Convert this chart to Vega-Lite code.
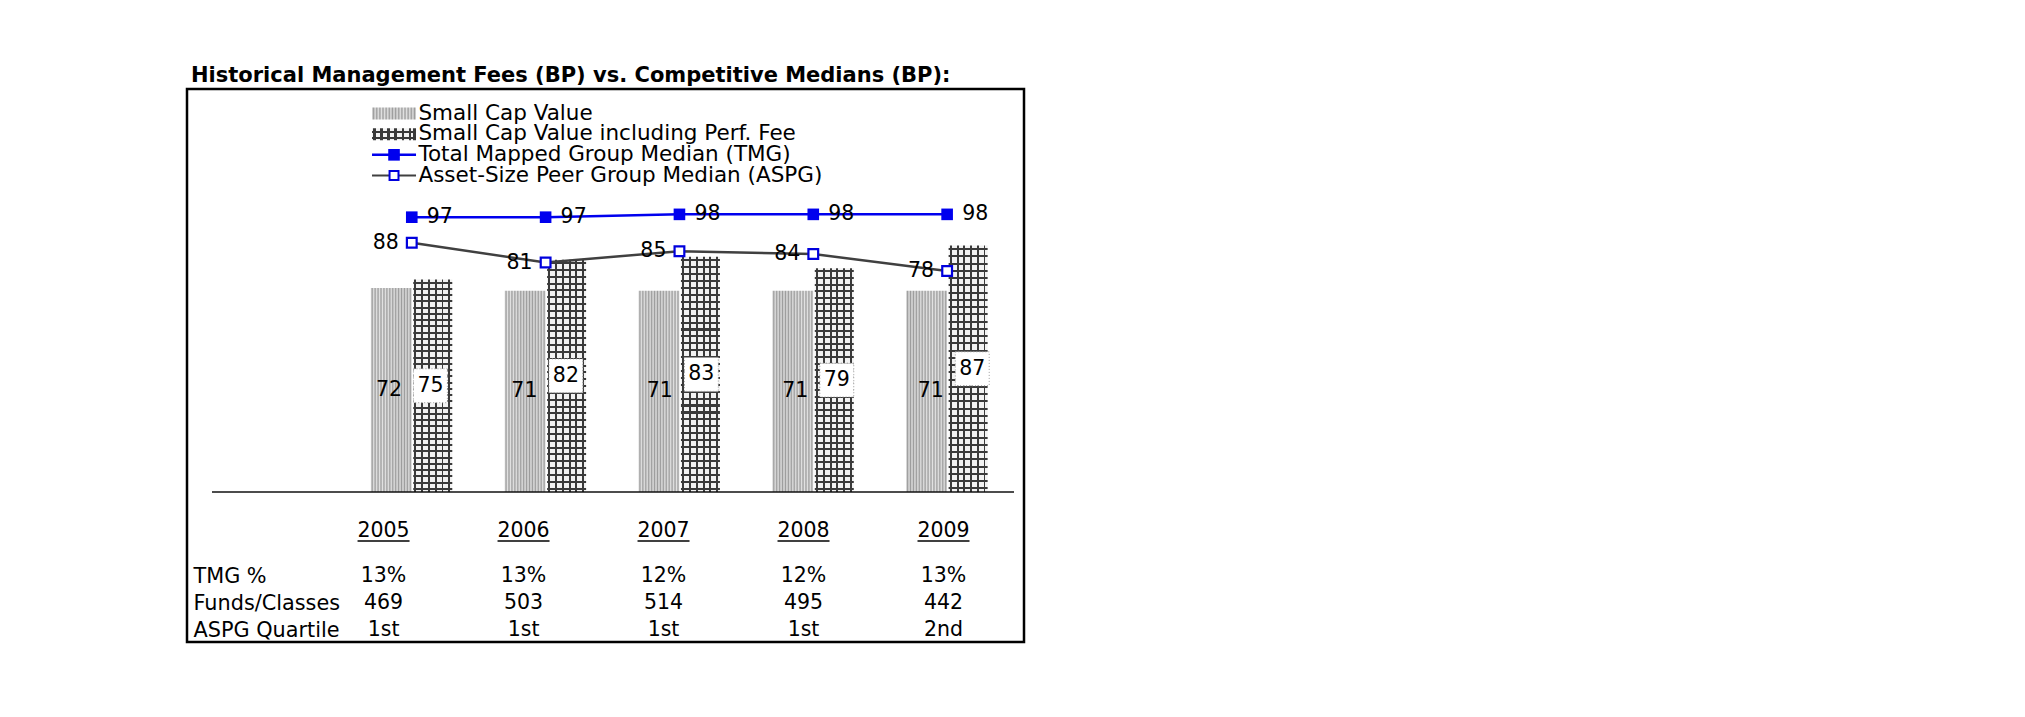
{
  "$schema": "https://vega.github.io/schema/vega-lite/v6.json",
  "width": 837,
  "height": 553,
  "autosize": {"type": "none"},
  "padding": {"left": 187, "top": 89, "right": 1001, "bottom": 75},
  "background": "white",
  "title": {"text": "Historical Management Fees (BP) vs. Competitive Medians (BP):", "anchor": "start", "frame": "group", "dx": 4, "offset": 3, "fontSize": 21, "fontWeight": "bold", "font": "DejaVu Sans", "color": "black"},
  "datasets": {
    "main": [
      {"year": 2005, "scv": 72, "perf": 75, "tmg": 97, "aspg": 88},
      {"year": 2006, "scv": 71, "perf": 82, "tmg": 97, "aspg": 81},
      {"year": 2007, "scv": 71, "perf": 83, "tmg": 98, "aspg": 85},
      {"year": 2008, "scv": 71, "perf": 79, "tmg": 98, "aspg": 84},
      {"year": 2009, "scv": 71, "perf": 87, "tmg": 98, "aspg": 78}
    ],
    "table": [
      {"year": 2005, "row": "TMG %", "val": "13%"},
      {"year": 2006, "row": "TMG %", "val": "13%"},
      {"year": 2007, "row": "TMG %", "val": "12%"},
      {"year": 2008, "row": "TMG %", "val": "12%"},
      {"year": 2009, "row": "TMG %", "val": "13%"},
      {"year": 2005, "row": "Funds/Classes", "val": "469"},
      {"year": 2006, "row": "Funds/Classes", "val": "503"},
      {"year": 2007, "row": "Funds/Classes", "val": "514"},
      {"year": 2008, "row": "Funds/Classes", "val": "495"},
      {"year": 2009, "row": "Funds/Classes", "val": "442"},
      {"year": 2005, "row": "ASPG Quartile", "val": "1st"},
      {"year": 2006, "row": "ASPG Quartile", "val": "1st"},
      {"year": 2007, "row": "ASPG Quartile", "val": "1st"},
      {"year": 2008, "row": "ASPG Quartile", "val": "1st"},
      {"year": 2009, "row": "ASPG Quartile", "val": "2nd"}
    ],
    "legend": [
      {"entry": "Small Cap Value"},
      {"entry": "Small Cap Value including Perf. Fee"},
      {"entry": "Total Mapped Group Median (TMG)"},
      {"entry": "Asset-Size Peer Group Median (ASPG)"}
    ]
  },
  "resolve": {"scale": {"x": "independent", "y": "independent"}},
  "layer": [
    {
      "data": {"name": "main"},
      "layer": [
        {
          "mark": {"type": "bar", "orient": "vertical", "width": 41, "xOffset": -20.5,
            "fill": {"gradient": "linear", "x1": 0, "y1": 0, "x2": 1, "y2": 0, "stops": [{"offset":0,"color":"#e2e2e2"},{"offset":0.0357,"color":"#9c9c9c"},{"offset":0.0714,"color":"#e2e2e2"},{"offset":0.1071,"color":"#9c9c9c"},{"offset":0.1429,"color":"#e2e2e2"},{"offset":0.1786,"color":"#9c9c9c"},{"offset":0.2143,"color":"#e2e2e2"},{"offset":0.25,"color":"#9c9c9c"},{"offset":0.2857,"color":"#e2e2e2"},{"offset":0.3214,"color":"#9c9c9c"},{"offset":0.3571,"color":"#e2e2e2"},{"offset":0.3929,"color":"#9c9c9c"},{"offset":0.4286,"color":"#e2e2e2"},{"offset":0.4643,"color":"#9c9c9c"},{"offset":0.5,"color":"#e2e2e2"},{"offset":0.5357,"color":"#9c9c9c"},{"offset":0.5714,"color":"#e2e2e2"},{"offset":0.6071,"color":"#9c9c9c"},{"offset":0.6429,"color":"#e2e2e2"},{"offset":0.6786,"color":"#9c9c9c"},{"offset":0.7143,"color":"#e2e2e2"},{"offset":0.75,"color":"#9c9c9c"},{"offset":0.7857,"color":"#e2e2e2"},{"offset":0.8214,"color":"#9c9c9c"},{"offset":0.8571,"color":"#e2e2e2"},{"offset":0.8929,"color":"#9c9c9c"},{"offset":0.9286,"color":"#e2e2e2"},{"offset":0.9643,"color":"#9c9c9c"},{"offset":1,"color":"#e2e2e2"}]}},
          "encoding": {
            "x": {"field": "year", "type": "quantitative", "scale": {"domain": [2003.358, 2009.537], "nice": false, "zero": false}, "axis": null},
            "y": {"field": "scv", "type": "quantitative", "scale": {"domain": [-52.95, 142.25], "nice": false, "zero": false}, "axis": null}
          }
        },
        {
          "mark": {"type": "bar", "orient": "vertical", "width": 39, "xOffset": 21,
            "fill": {"gradient": "linear", "x1": 0, "y1": 0, "x2": 1, "y2": 0, "stops": [{"offset":0,"color":"#f2f2f2"},{"offset":0.03,"color":"#f2f2f2"},{"offset":0.03,"color":"#3a3a3a"},{"offset":0.08,"color":"#3a3a3a"},{"offset":0.08,"color":"#f2f2f2"},{"offset":0.21,"color":"#f2f2f2"},{"offset":0.21,"color":"#3a3a3a"},{"offset":0.26,"color":"#3a3a3a"},{"offset":0.26,"color":"#f2f2f2"},{"offset":0.38,"color":"#f2f2f2"},{"offset":0.38,"color":"#3a3a3a"},{"offset":0.43,"color":"#3a3a3a"},{"offset":0.43,"color":"#f2f2f2"},{"offset":0.555,"color":"#f2f2f2"},{"offset":0.555,"color":"#3a3a3a"},{"offset":0.605,"color":"#3a3a3a"},{"offset":0.605,"color":"#f2f2f2"},{"offset":0.725,"color":"#f2f2f2"},{"offset":0.725,"color":"#3a3a3a"},{"offset":0.775,"color":"#3a3a3a"},{"offset":0.775,"color":"#f2f2f2"},{"offset":0.895,"color":"#f2f2f2"},{"offset":0.895,"color":"#3a3a3a"},{"offset":0.945,"color":"#3a3a3a"},{"offset":0.945,"color":"#f2f2f2"},{"offset":1,"color":"#f2f2f2"}]}},
          "encoding": {
            "x": {"field": "year", "type": "quantitative", "scale": {"domain": [2003.358, 2009.537], "nice": false, "zero": false}, "axis": null},
            "y": {"field": "perf", "type": "quantitative", "scale": {"domain": [-52.95, 142.25], "nice": false, "zero": false}, "axis": null}
          }
        },
        {
          "mark": {"type": "bar", "orient": "vertical", "width": 39, "xOffset": 21,
            "fill": {"gradient": "linear", "x1": 0, "y1": 0, "x2": 0, "y2": 1, "stops": [
              {"offset":0,"color":"rgba(58,58,58,0)"},
              {"offset":0.0103,"color":"rgba(58,58,58,0)"},{"offset":0.0103,"color":"#3a3a3a"},{"offset":0.0191,"color":"#3a3a3a"},{"offset":0.0191,"color":"rgba(58,58,58,0)"},
              {"offset":0.0397,"color":"rgba(58,58,58,0)"},{"offset":0.0397,"color":"#3a3a3a"},{"offset":0.0485,"color":"#3a3a3a"},{"offset":0.0485,"color":"rgba(58,58,58,0)"},
              {"offset":0.0691,"color":"rgba(58,58,58,0)"},{"offset":0.0691,"color":"#3a3a3a"},{"offset":0.0779,"color":"#3a3a3a"},{"offset":0.0779,"color":"rgba(58,58,58,0)"},
              {"offset":0.0985,"color":"rgba(58,58,58,0)"},{"offset":0.0985,"color":"#3a3a3a"},{"offset":0.1073,"color":"#3a3a3a"},{"offset":0.1073,"color":"rgba(58,58,58,0)"},
              {"offset":0.1279,"color":"rgba(58,58,58,0)"},{"offset":0.1279,"color":"#3a3a3a"},{"offset":0.1367,"color":"#3a3a3a"},{"offset":0.1367,"color":"rgba(58,58,58,0)"},
              {"offset":0.1574,"color":"rgba(58,58,58,0)"},{"offset":0.1574,"color":"#3a3a3a"},{"offset":0.1662,"color":"#3a3a3a"},{"offset":0.1662,"color":"rgba(58,58,58,0)"},
              {"offset":0.1868,"color":"rgba(58,58,58,0)"},{"offset":0.1868,"color":"#3a3a3a"},{"offset":0.1956,"color":"#3a3a3a"},{"offset":0.1956,"color":"rgba(58,58,58,0)"},
              {"offset":0.2162,"color":"rgba(58,58,58,0)"},{"offset":0.2162,"color":"#3a3a3a"},{"offset":0.2250,"color":"#3a3a3a"},{"offset":0.2250,"color":"rgba(58,58,58,0)"},
              {"offset":0.2456,"color":"rgba(58,58,58,0)"},{"offset":0.2456,"color":"#3a3a3a"},{"offset":0.2544,"color":"#3a3a3a"},{"offset":0.2544,"color":"rgba(58,58,58,0)"},
              {"offset":0.2750,"color":"rgba(58,58,58,0)"},{"offset":0.2750,"color":"#3a3a3a"},{"offset":0.2838,"color":"#3a3a3a"},{"offset":0.2838,"color":"rgba(58,58,58,0)"},
              {"offset":0.3044,"color":"rgba(58,58,58,0)"},{"offset":0.3044,"color":"#3a3a3a"},{"offset":0.3132,"color":"#3a3a3a"},{"offset":0.3132,"color":"rgba(58,58,58,0)"},
              {"offset":0.3338,"color":"rgba(58,58,58,0)"},{"offset":0.3338,"color":"#3a3a3a"},{"offset":0.3426,"color":"#3a3a3a"},{"offset":0.3426,"color":"rgba(58,58,58,0)"},
              {"offset":0.3632,"color":"rgba(58,58,58,0)"},{"offset":0.3632,"color":"#3a3a3a"},{"offset":0.3720,"color":"#3a3a3a"},{"offset":0.3720,"color":"rgba(58,58,58,0)"},
              {"offset":0.3926,"color":"rgba(58,58,58,0)"},{"offset":0.3926,"color":"#3a3a3a"},{"offset":0.4014,"color":"#3a3a3a"},{"offset":0.4014,"color":"rgba(58,58,58,0)"},
              {"offset":0.4221,"color":"rgba(58,58,58,0)"},{"offset":0.4221,"color":"#3a3a3a"},{"offset":0.4309,"color":"#3a3a3a"},{"offset":0.4309,"color":"rgba(58,58,58,0)"},
              {"offset":0.4515,"color":"rgba(58,58,58,0)"},{"offset":0.4515,"color":"#3a3a3a"},{"offset":0.4603,"color":"#3a3a3a"},{"offset":0.4603,"color":"rgba(58,58,58,0)"},
              {"offset":0.4809,"color":"rgba(58,58,58,0)"},{"offset":0.4809,"color":"#3a3a3a"},{"offset":0.4897,"color":"#3a3a3a"},{"offset":0.4897,"color":"rgba(58,58,58,0)"},
              {"offset":0.5103,"color":"rgba(58,58,58,0)"},{"offset":0.5103,"color":"#3a3a3a"},{"offset":0.5191,"color":"#3a3a3a"},{"offset":0.5191,"color":"rgba(58,58,58,0)"},
              {"offset":0.5397,"color":"rgba(58,58,58,0)"},{"offset":0.5397,"color":"#3a3a3a"},{"offset":0.5485,"color":"#3a3a3a"},{"offset":0.5485,"color":"rgba(58,58,58,0)"},
              {"offset":0.5691,"color":"rgba(58,58,58,0)"},{"offset":0.5691,"color":"#3a3a3a"},{"offset":0.5779,"color":"#3a3a3a"},{"offset":0.5779,"color":"rgba(58,58,58,0)"},
              {"offset":0.5985,"color":"rgba(58,58,58,0)"},{"offset":0.5985,"color":"#3a3a3a"},{"offset":0.6073,"color":"#3a3a3a"},{"offset":0.6073,"color":"rgba(58,58,58,0)"},
              {"offset":0.6279,"color":"rgba(58,58,58,0)"},{"offset":0.6279,"color":"#3a3a3a"},{"offset":0.6367,"color":"#3a3a3a"},{"offset":0.6367,"color":"rgba(58,58,58,0)"},
              {"offset":0.6574,"color":"rgba(58,58,58,0)"},{"offset":0.6574,"color":"#3a3a3a"},{"offset":0.6662,"color":"#3a3a3a"},{"offset":0.6662,"color":"rgba(58,58,58,0)"},
              {"offset":0.6868,"color":"rgba(58,58,58,0)"},{"offset":0.6868,"color":"#3a3a3a"},{"offset":0.6956,"color":"#3a3a3a"},{"offset":0.6956,"color":"rgba(58,58,58,0)"},
              {"offset":0.7162,"color":"rgba(58,58,58,0)"},{"offset":0.7162,"color":"#3a3a3a"},{"offset":0.7250,"color":"#3a3a3a"},{"offset":0.7250,"color":"rgba(58,58,58,0)"},
              {"offset":0.7456,"color":"rgba(58,58,58,0)"},{"offset":0.7456,"color":"#3a3a3a"},{"offset":0.7544,"color":"#3a3a3a"},{"offset":0.7544,"color":"rgba(58,58,58,0)"},
              {"offset":0.7750,"color":"rgba(58,58,58,0)"},{"offset":0.7750,"color":"#3a3a3a"},{"offset":0.7838,"color":"#3a3a3a"},{"offset":0.7838,"color":"rgba(58,58,58,0)"},
              {"offset":0.8044,"color":"rgba(58,58,58,0)"},{"offset":0.8044,"color":"#3a3a3a"},{"offset":0.8132,"color":"#3a3a3a"},{"offset":0.8132,"color":"rgba(58,58,58,0)"},
              {"offset":0.8338,"color":"rgba(58,58,58,0)"},{"offset":0.8338,"color":"#3a3a3a"},{"offset":0.8426,"color":"#3a3a3a"},{"offset":0.8426,"color":"rgba(58,58,58,0)"},
              {"offset":0.8632,"color":"rgba(58,58,58,0)"},{"offset":0.8632,"color":"#3a3a3a"},{"offset":0.8720,"color":"#3a3a3a"},{"offset":0.8720,"color":"rgba(58,58,58,0)"},
              {"offset":0.8926,"color":"rgba(58,58,58,0)"},{"offset":0.8926,"color":"#3a3a3a"},{"offset":0.9014,"color":"#3a3a3a"},{"offset":0.9014,"color":"rgba(58,58,58,0)"},
              {"offset":0.9221,"color":"rgba(58,58,58,0)"},{"offset":0.9221,"color":"#3a3a3a"},{"offset":0.9309,"color":"#3a3a3a"},{"offset":0.9309,"color":"rgba(58,58,58,0)"},
              {"offset":0.9515,"color":"rgba(58,58,58,0)"},{"offset":0.9515,"color":"#3a3a3a"},{"offset":0.9603,"color":"#3a3a3a"},{"offset":0.9603,"color":"rgba(58,58,58,0)"},
              {"offset":0.9809,"color":"rgba(58,58,58,0)"},{"offset":0.9809,"color":"#3a3a3a"},{"offset":0.9897,"color":"#3a3a3a"},{"offset":0.9897,"color":"rgba(58,58,58,0)"},
              {"offset":1,"color":"rgba(58,58,58,0)"}
            ]}},
          "encoding": {
            "x": {"field": "year", "type": "quantitative", "scale": {"domain": [2003.358, 2009.537], "nice": false, "zero": false}, "axis": null},
            "y": {"field": "perf", "type": "quantitative", "scale": {"domain": [-52.95, 142.25], "nice": false, "zero": false}, "axis": null}
          }
        },
        {
          "data": {"values": [{"baseline": 0}]},
          "mark": {"type": "rule", "stroke": "#111111", "strokeWidth": 1.5, "xOffset": 20, "x2Offset": -5},
          "encoding": {
            "x": {"datum": 2003.358, "type": "quantitative", "scale": {"domain": [2003.358, 2009.537], "nice": false, "zero": false}, "axis": null},
            "x2": {"datum": 2009.537},
            "y": {"field": "baseline", "type": "quantitative", "scale": {"domain": [-52.95, 142.25], "nice": false, "zero": false}, "axis": null}
          }
        },
        {
          "mark": {"type": "line", "stroke": "#404040", "strokeWidth": 2.5},
          "encoding": {
            "x": {"field": "year", "type": "quantitative", "axis": null},
            "y": {"field": "aspg", "type": "quantitative", "axis": null}
          }
        },
        {
          "mark": {"type": "line", "stroke": "#0000ee", "strokeWidth": 2.5},
          "encoding": {
            "x": {"field": "year", "type": "quantitative", "axis": null},
            "y": {"field": "tmg", "type": "quantitative", "axis": null}
          }
        },
        {
          "mark": {"type": "point", "shape": "square", "size": 95, "filled": true, "fill": "white", "stroke": "#0000dd", "strokeWidth": 2.2, "opacity": 1},
          "encoding": {
            "x": {"field": "year", "type": "quantitative", "axis": null},
            "y": {"field": "aspg", "type": "quantitative", "axis": null}
          }
        },
        {
          "mark": {"type": "point", "shape": "square", "size": 135, "filled": true, "fill": "#0000ee", "stroke": "#0000ee", "strokeWidth": 0, "opacity": 1},
          "encoding": {
            "x": {"field": "year", "type": "quantitative", "axis": null},
            "y": {"field": "tmg", "type": "quantitative", "axis": null}
          }
        },
        {
          "mark": {"type": "text", "align": "left", "baseline": "middle", "dx": 15, "fontSize": 20.5, "font": "DejaVu Sans", "color": "black"},
          "encoding": {
            "x": {"field": "year", "type": "quantitative", "axis": null},
            "y": {"field": "tmg", "type": "quantitative", "axis": null},
            "text": {"field": "tmg", "type": "quantitative"}
          }
        },
        {
          "mark": {"type": "text", "align": "right", "baseline": "middle", "dx": -13, "fontSize": 20.5, "font": "DejaVu Sans", "color": "black"},
          "encoding": {
            "x": {"field": "year", "type": "quantitative", "axis": null},
            "y": {"field": "aspg", "type": "quantitative", "axis": null},
            "text": {"field": "aspg", "type": "quantitative"}
          }
        }
      ]
    },
    {
      "data": {"name": "main"},
      "layer": [
        {
          "mark": {"type": "text", "align": "center", "baseline": "middle", "xOffset": -20.5, "fontSize": 20.5, "font": "DejaVu Sans", "color": "black"},
          "encoding": {
            "x": {"field": "year", "type": "quantitative", "scale": {"domain": [2003.358, 2009.537], "nice": false, "zero": false}, "axis": null},
            "y": {"field": "scv", "type": "quantitative", "scale": {"domain": [-105.9, 284.5], "nice": false, "zero": false}, "axis": null},
            "text": {"field": "scv", "type": "quantitative"}
          }
        },
        {
          "mark": {"type": "point", "shape": "square", "size": 1150, "filled": true, "fill": "white", "stroke": "#9a9a9a", "strokeWidth": 1, "strokeDash": [1, 2], "opacity": 1, "xOffset": 21},
          "encoding": {
            "x": {"field": "year", "type": "quantitative", "axis": null},
            "y": {"field": "perf", "type": "quantitative", "axis": null}
          }
        },
        {
          "mark": {"type": "text", "align": "center", "baseline": "middle", "xOffset": 21, "fontSize": 20.5, "font": "DejaVu Sans", "color": "black"},
          "encoding": {
            "x": {"field": "year", "type": "quantitative", "axis": null},
            "y": {"field": "perf", "type": "quantitative", "axis": null},
            "text": {"field": "perf", "type": "quantitative"}
          }
        }
      ]
    },
    {
      "layer": [
        {
          "data": {"values": [{"entry": "Small Cap Value"}]},
          "mark": {"type": "rect", "width": 44, "height": 12, "xOffset": -15.4,
            "fill": {"gradient": "linear", "x1": 0, "y1": 0, "x2": 1, "y2": 0, "stops": [{"offset":0,"color":"#e2e2e2"},{"offset":0.0357,"color":"#9c9c9c"},{"offset":0.0714,"color":"#e2e2e2"},{"offset":0.1071,"color":"#9c9c9c"},{"offset":0.1429,"color":"#e2e2e2"},{"offset":0.1786,"color":"#9c9c9c"},{"offset":0.2143,"color":"#e2e2e2"},{"offset":0.25,"color":"#9c9c9c"},{"offset":0.2857,"color":"#e2e2e2"},{"offset":0.3214,"color":"#9c9c9c"},{"offset":0.3571,"color":"#e2e2e2"},{"offset":0.3929,"color":"#9c9c9c"},{"offset":0.4286,"color":"#e2e2e2"},{"offset":0.4643,"color":"#9c9c9c"},{"offset":0.5,"color":"#e2e2e2"},{"offset":0.5357,"color":"#9c9c9c"},{"offset":0.5714,"color":"#e2e2e2"},{"offset":0.6071,"color":"#9c9c9c"},{"offset":0.6429,"color":"#e2e2e2"},{"offset":0.6786,"color":"#9c9c9c"},{"offset":0.7143,"color":"#e2e2e2"},{"offset":0.75,"color":"#9c9c9c"},{"offset":0.7857,"color":"#e2e2e2"},{"offset":0.8214,"color":"#9c9c9c"},{"offset":0.8571,"color":"#e2e2e2"},{"offset":0.8929,"color":"#9c9c9c"},{"offset":0.9286,"color":"#e2e2e2"},{"offset":0.9643,"color":"#9c9c9c"},{"offset":1,"color":"#e2e2e2"}]}},
          "encoding": {
            "x": {"datum": 2005, "type": "quantitative", "scale": {"domain": [2003.358, 2009.537], "nice": false, "zero": false}, "axis": null},
            "y": {"field": "entry", "type": "nominal", "scale": {"type": "point", "domain": ["Small Cap Value", "Small Cap Value including Perf. Fee", "Total Mapped Group Median (TMG)", "Asset-Size Peer Group Median (ASPG)"], "range": [24.5, 86.5], "padding": 0}, "axis": null}
          }
        },
        {
          "data": {"values": [{"entry": "Small Cap Value including Perf. Fee"}]},
          "mark": {"type": "rect", "width": 44, "height": 12, "xOffset": -15.4,
            "fill": {"gradient": "linear", "x1": 0, "y1": 0, "x2": 1, "y2": 0, "stops": [{"offset":0,"color":"#f2f2f2"},{"offset":0.03,"color":"#f2f2f2"},{"offset":0.03,"color":"#3a3a3a"},{"offset":0.08,"color":"#3a3a3a"},{"offset":0.08,"color":"#f2f2f2"},{"offset":0.19,"color":"#f2f2f2"},{"offset":0.19,"color":"#3a3a3a"},{"offset":0.24,"color":"#3a3a3a"},{"offset":0.24,"color":"#f2f2f2"},{"offset":0.35,"color":"#f2f2f2"},{"offset":0.35,"color":"#3a3a3a"},{"offset":0.40,"color":"#3a3a3a"},{"offset":0.40,"color":"#f2f2f2"},{"offset":0.51,"color":"#f2f2f2"},{"offset":0.51,"color":"#3a3a3a"},{"offset":0.56,"color":"#3a3a3a"},{"offset":0.56,"color":"#f2f2f2"},{"offset":0.67,"color":"#f2f2f2"},{"offset":0.67,"color":"#3a3a3a"},{"offset":0.72,"color":"#3a3a3a"},{"offset":0.72,"color":"#f2f2f2"},{"offset":0.83,"color":"#f2f2f2"},{"offset":0.83,"color":"#3a3a3a"},{"offset":0.88,"color":"#3a3a3a"},{"offset":0.88,"color":"#f2f2f2"},{"offset":0.94,"color":"#f2f2f2"},{"offset":0.94,"color":"#3a3a3a"},{"offset":0.99,"color":"#3a3a3a"},{"offset":0.99,"color":"#f2f2f2"},{"offset":1,"color":"#f2f2f2"}]}},
          "encoding": {
            "x": {"datum": 2005, "type": "quantitative"},
            "y": {"field": "entry", "type": "nominal"}
          }
        },
        {
          "data": {"values": [{"entry": "Small Cap Value including Perf. Fee"}]},
          "mark": {"type": "rect", "width": 44, "height": 12, "xOffset": -15.4,
            "fill": {"gradient": "linear", "x1": 0, "y1": 0, "x2": 0, "y2": 1, "stops": [{"offset":0,"color":"rgba(58,58,58,0)"},{"offset":0.25,"color":"rgba(58,58,58,0)"},{"offset":0.25,"color":"#3a3a3a"},{"offset":0.42,"color":"#3a3a3a"},{"offset":0.42,"color":"rgba(58,58,58,0)"},{"offset":0.7,"color":"rgba(58,58,58,0)"},{"offset":0.7,"color":"#3a3a3a"},{"offset":0.87,"color":"#3a3a3a"},{"offset":0.87,"color":"rgba(58,58,58,0)"},{"offset":1,"color":"rgba(58,58,58,0)"}]}},
          "encoding": {
            "x": {"datum": 2005, "type": "quantitative"},
            "y": {"field": "entry", "type": "nominal"}
          }
        },
        {
          "data": {"values": [{"entry": "Total Mapped Group Median (TMG)"}]},
          "mark": {"type": "rule", "stroke": "#0000ee", "strokeWidth": 2.5, "xOffset": -37.4, "x2Offset": 6.6},
          "encoding": {
            "x": {"datum": 2005, "type": "quantitative"},
            "x2": {"datum": 2005},
            "y": {"field": "entry", "type": "nominal"}
          }
        },
        {
          "data": {"values": [{"entry": "Asset-Size Peer Group Median (ASPG)"}]},
          "mark": {"type": "rule", "stroke": "#404040", "strokeWidth": 2.2, "xOffset": -37.4, "x2Offset": 6.6},
          "encoding": {
            "x": {"datum": 2005, "type": "quantitative"},
            "x2": {"datum": 2005},
            "y": {"field": "entry", "type": "nominal"}
          }
        },
        {
          "data": {"values": [{"entry": "Total Mapped Group Median (TMG)"}]},
          "mark": {"type": "point", "shape": "square", "size": 135, "filled": true, "fill": "#0000ee", "strokeWidth": 0, "opacity": 1, "xOffset": -15.4},
          "encoding": {
            "x": {"datum": 2005, "type": "quantitative"},
            "y": {"field": "entry", "type": "nominal"}
          }
        },
        {
          "data": {"values": [{"entry": "Asset-Size Peer Group Median (ASPG)"}]},
          "mark": {"type": "point", "shape": "square", "size": 80, "filled": true, "fill": "white", "stroke": "#0000dd", "strokeWidth": 2, "opacity": 1, "xOffset": -15.4},
          "encoding": {
            "x": {"datum": 2005, "type": "quantitative"},
            "y": {"field": "entry", "type": "nominal"}
          }
        },
        {
          "data": {"name": "legend"},
          "mark": {"type": "text", "align": "left", "baseline": "middle", "xOffset": 9, "fontSize": 21.5, "font": "DejaVu Sans", "color": "black"},
          "encoding": {
            "x": {"datum": 2005, "type": "quantitative"},
            "y": {"field": "entry", "type": "nominal"},
            "text": {"field": "entry", "type": "nominal"}
          }
        }
      ]
    },
    {
      "layer": [
        {
          "data": {"name": "table"},
          "mark": {"type": "text", "align": "center", "baseline": "middle", "fontSize": 20.5, "font": "DejaVu Sans", "color": "black"},
          "encoding": {
            "x": {"field": "year", "type": "quantitative", "scale": {"domain": [2003.596, 2009.575], "nice": false, "zero": false}, "axis": null},
            "y": {"field": "row", "type": "nominal", "scale": {"type": "point", "domain": ["Year", "TMG %", "Funds/Classes", "ASPG Quartile"], "range": [460, 541], "padding": 0},
              "axis": {"orient": "left", "domain": false, "ticks": false, "tickSize": 0, "grid": false, "title": null, "labelPadding": -6, "labelAlign": "left", "labelBaseline": "middle", "labelFontSize": 20.8, "labelFont": "DejaVu Sans", "labelColor": "black", "labelLimit": 0, "labelExpr": "datum.value == 'Year' ? '' : datum.value"}},
            "text": {"field": "val", "type": "nominal"}
          }
        },
        {
          "data": {"name": "main"},
          "mark": {"type": "text", "align": "center", "baseline": "middle", "yOffset": -18, "fontSize": 20.5, "font": "DejaVu Sans", "color": "black"},
          "encoding": {
            "x": {"field": "year", "type": "quantitative"},
            "y": {"datum": "Year", "type": "nominal"},
            "text": {"field": "year", "type": "nominal"}
          }
        },
        {
          "data": {"name": "main"},
          "mark": {"type": "rule", "stroke": "black", "strokeWidth": 1.5, "yOffset": -8, "xOffset": -26, "x2Offset": 26},
          "encoding": {
            "x": {"field": "year", "type": "quantitative"},
            "x2": {"field": "year"},
            "y": {"datum": "Year", "type": "nominal"}
          }
        }
      ]
    }
  ],
  "config": {
    "view": {"stroke": "black", "strokeWidth": 2.5},
    "font": "DejaVu Sans",
    "text": {"font": "DejaVu Sans", "color": "black"}
  }
}
